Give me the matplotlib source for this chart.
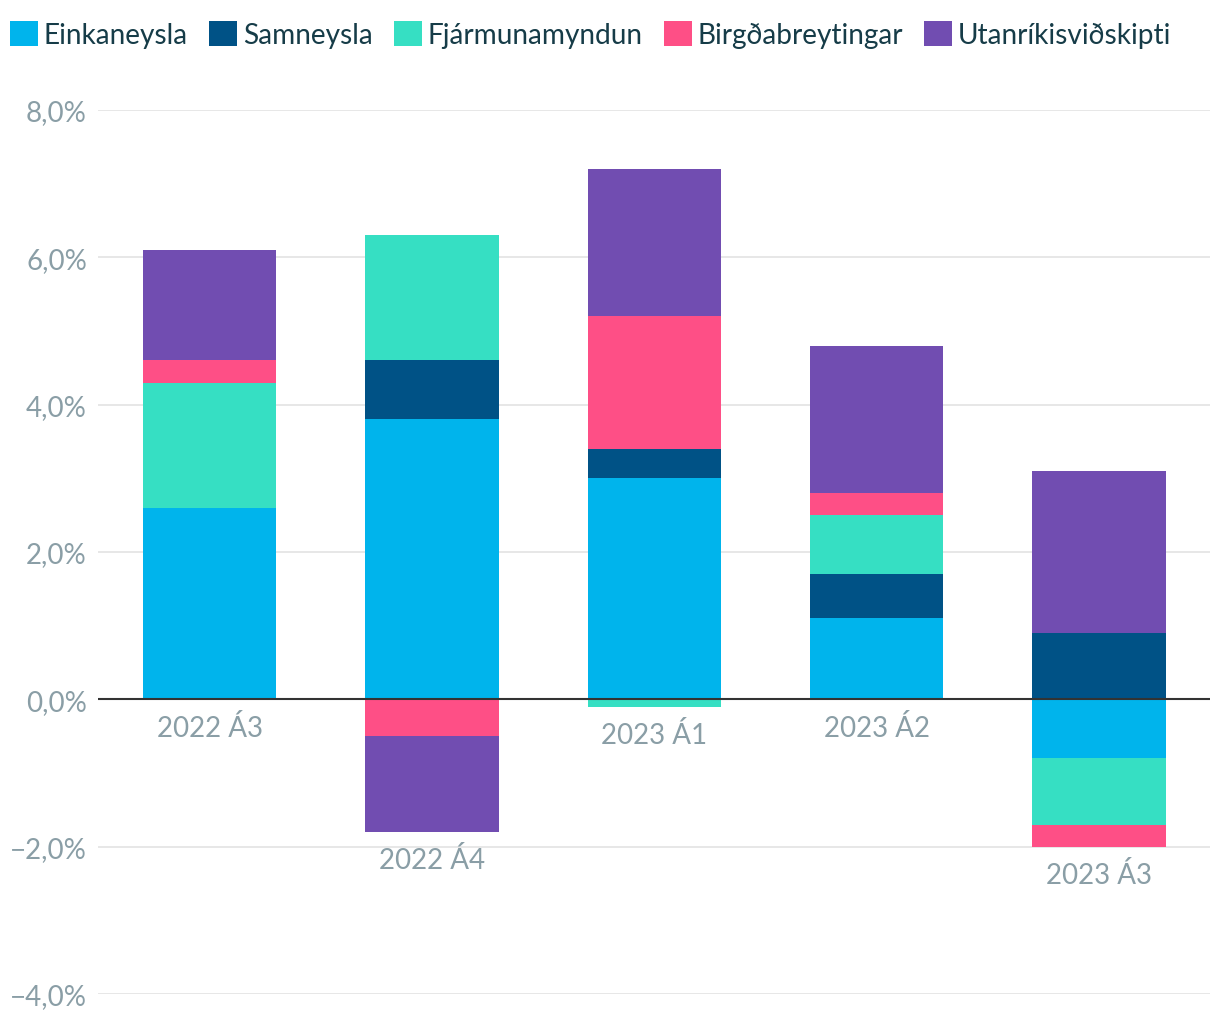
import matplotlib
matplotlib.use("Agg")
import matplotlib.pyplot as plt
from matplotlib.patches import Patch
import numpy as np

categories = ["2022 Á3", "2022 Á4", "2023 Á1", "2023 Á2", "2023 Á3"]
series_names = ["Einkaneysla", "Samneysla", "Fjármunamyndun", "Birgðabreytingar", "Utanríkisviðskipti"]
einkaneysla = [2.6, 3.8, 3.0, 1.1, -0.8]
samneysla = [0.0, 0.8, 0.4, 0.6, 0.9]
fjarmunamyndun = [1.7, 1.7, -0.1, 0.8, -0.9]
birgdabreytingar = [0.3, -0.5, 1.8, 0.3, -0.3]
utanrikisvidskipti = [1.5, -1.3, 2.0, 2.0, 2.2]
colors = ["#00b4ec", "#005286", "#36dfc3", "#fe4f86", "#714db1"]
yticks = [-4, -2, 0, 2, 4, 6, 8]

plt.rcParams['font.family'] = ['Lato', 'DejaVu Sans']

fig = plt.figure(figsize=(12.2, 10.2), dpi=100)
ax = fig.add_axes([98/1220, 25/1020, 1112/1220, 884/1020])

data = [einkaneysla, samneysla, fjarmunamyndun, birgdabreytingar, utanrikisvidskipti]
x = np.arange(len(categories))
pos_base = np.zeros(len(categories))
neg_base = np.zeros(len(categories))
for vals, col in zip(data, colors):
    v = np.array(vals, dtype=float)
    bottoms = np.where(v >= 0, pos_base, neg_base)
    ax.bar(x, v, bottom=bottoms, width=0.6, color=col, zorder=3, linewidth=0)
    pos_base = pos_base + np.where(v > 0, v, 0)
    neg_base = neg_base + np.where(v < 0, v, 0)

tick_color = '#8a9ea6'
ax.set_xlim(-0.502, 4.5)
ax.set_ylim(-4, 8)
ax.set_yticks(yticks)
ax.set_yticklabels([f"{t:.1f}%".replace(".", ",").replace("-", "\u2212") for t in yticks])
ax.grid(axis='y', color='#e3e3e3', linewidth=1.2, zorder=0)
ax.axhline(0, color='#333333', linewidth=1.5, zorder=4)
ax.tick_params(axis='y', length=0, pad=8, labelsize=20, labelcolor=tick_color)
ax.tick_params(axis='x', length=0, labelbottom=False)
for s in ax.spines.values():
    s.set_visible(False)

for i, c in enumerate(categories):
    ymin = min(0, neg_base[i])
    ax.annotate(c, xy=(x[i], ymin), xytext=(0, -20), textcoords='offset points',
                ha='center', va='center', fontsize=20, color=tick_color, zorder=5)

handles = [Patch(facecolor=c, edgecolor='none', label=n) for c, n in zip(colors, series_names)]
fig.legend(handles=handles, loc='upper left', bbox_to_anchor=(-0.008, 0.998), ncol=5,
           frameon=False, fontsize=20.2, handlelength=1.0, handleheight=1.0,
           handletextpad=0.2, columnspacing=0.76, borderaxespad=0.3,
           labelcolor='#163c48')

fig.savefig("out.png", dpi=100)
